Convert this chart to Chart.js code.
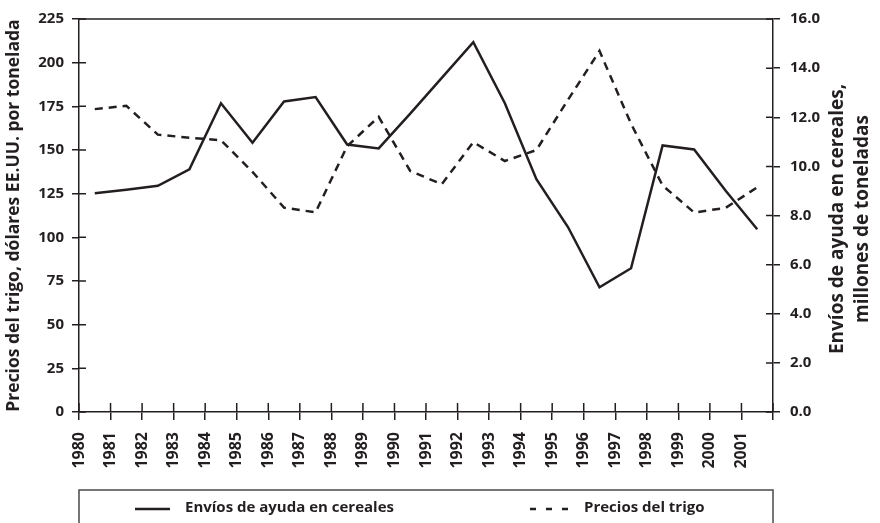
<!DOCTYPE html>
<html>
<head>
<meta charset="utf-8">
<script src="https://cdn.jsdelivr.net/npm/chart.js@4/dist/chart.umd.min.js"></script>
<style>
  html, body { margin: 0; padding: 0; background: #ffffff; }
  #wrap { width: 880px; height: 523px; position: relative; }
</style>
</head>
<body>
<div id="wrap"><canvas id="c" width="880" height="523"></canvas></div>
<script>
// ---- Data ----
const years = [1980,1981,1982,1983,1984,1985,1986,1987,1988,1989,1990,1991,1992,1993,1994,1995,1996,1997,1998,1999,2000,2001];
// Envíos de ayuda en cereales (millones de toneladas) - right axis
const aidShipments = [8.91,9.05,9.21,9.88,12.57,10.96,12.64,12.82,10.89,10.73,12.15,13.6,15.06,12.57,9.48,7.53,5.08,5.85,10.85,10.69,9.01,7.44];
// Precios del trigo (dólares EE.UU. por tonelada) - left axis
const wheatPrices = [173.4,175.3,158.8,157.0,155.6,137.5,117.0,114.3,152.2,169.0,138.0,130.4,154.5,143.7,150.0,178.7,206.7,165.0,129.7,114.2,116.9,128.6];

const seriesLabels = ['Envíos de ayuda en cereales', 'Precios del trigo'];
const leftTitle = 'Precios del trigo, dólares EE.UU. por tonelada';
const rightTitle = ['Envíos de ayuda en cereales,', 'millones de toneladas'];
const xTickLabels = years.map(String);

const INK = '#231f20';
const FONT = "'Open Sans', 'Noto Sans', sans-serif";

// mid-year plotting positions
const aidPoints = years.map((yr, i) => ({ x: yr + 0.5, y: aidShipments[i] }));
const pricePoints = years.map((yr, i) => ({ x: yr + 0.5, y: wheatPrices[i] }));

const decorPlugin = {
  id: 'decor',
  afterDraw(chart) {
    const ctx = chart.ctx;
    const area = chart.chartArea;
    const xs = chart.scales.x, ys = chart.scales.y, y1 = chart.scales.y1;
    ctx.save();
    ctx.strokeStyle = INK;
    ctx.lineWidth = 1.5;
    // top frame line
    ctx.beginPath();
    ctx.moveTo(area.left, area.top);
    ctx.lineTo(area.right, area.top);
    ctx.stroke();
    // inner tick marks (ticks cross axes)
    ctx.beginPath();
    xs.ticks.forEach(t => {
      const px = xs.getPixelForValue(t.value);
      ctx.moveTo(px, area.bottom);
      ctx.lineTo(px, area.bottom - 9);
    });
    ys.ticks.forEach(t => {
      const py = ys.getPixelForValue(t.value);
      ctx.moveTo(area.left, py);
      ctx.lineTo(area.left + 7, py);
    });
    y1.ticks.forEach(t => {
      const py = y1.getPixelForValue(t.value);
      ctx.moveTo(area.right, py);
      ctx.lineTo(area.right - 7, py);
    });
    ctx.stroke();

    // right axis title (reads bottom to top)
    ctx.fillStyle = INK;
    ctx.font = "bold 19px " + FONT;
    ctx.textAlign = 'center';
    ctx.textBaseline = 'middle';
    const cy = 219;
    [838, 863].forEach((x, i) => {
      ctx.save();
      ctx.translate(x, cy);
      ctx.rotate(-Math.PI / 2);
      ctx.fillText(rightTitle[i], 0, 0);
      ctx.restore();
    });

    // legend box
    const ds = chart.data.datasets;
    ctx.strokeStyle = '#4a4a4a';
    ctx.lineWidth = 1.5;
    ctx.strokeRect(area.left, 490, area.right - area.left, 60);
    const ly = 509;
    ctx.strokeStyle = INK;
    ctx.lineWidth = 2.5;
    ctx.setLineDash([]);
    ctx.beginPath(); ctx.moveTo(135, ly); ctx.lineTo(170, ly); ctx.stroke();
    ctx.setLineDash([6, 10]);
    ctx.beginPath(); ctx.moveTo(530, ly); ctx.lineTo(570, ly); ctx.stroke();
    ctx.setLineDash([]);
    ctx.font = "bold 15px " + FONT;
    ctx.textAlign = 'left';
    ctx.textBaseline = 'middle';
    ctx.fillText(ds[0].label, 185, ly - 1);
    ctx.fillText(ds[1].label, 584, ly - 1);
    ctx.restore();
  }
};

new Chart(document.getElementById('c'), {
  type: 'line',
  data: {
    datasets: [
      {
        label: seriesLabels[0],
        data: aidPoints,
        yAxisID: 'y1',
        borderColor: INK,
        borderWidth: 2.5,
        pointRadius: 0,
        tension: 0,
        fill: false
      },
      {
        label: seriesLabels[1],
        data: pricePoints,
        yAxisID: 'y',
        borderColor: INK,
        borderWidth: 2.5,
        borderDash: [8, 6],
        pointRadius: 0,
        tension: 0,
        fill: false
      }
    ]
  },
  options: {
    responsive: false,
    animation: false,
    layout: { padding: { top: 15, left: 0, right: 0, bottom: 0 } },
    plugins: {
      legend: { display: false },
      tooltip: { enabled: false },
      title: { display: false }
    },
    scales: {
      x: {
        type: 'linear',
        min: 1980,
        max: 2002,
        afterFit(s) { s.height = 111; },
        ticks: {
          stepSize: 1,
          autoSkip: false,
          minRotation: 90,
          maxRotation: 90,
          padding: 12,
          color: INK,
          font: { family: FONT, size: 16, weight: 'bold' },
          callback: (v) => { const i = years.indexOf(v); return i >= 0 ? xTickLabels[i] : ''; }
        },
        grid: { drawOnChartArea: false, drawTicks: true, tickLength: 8, color: INK, lineWidth: 1.5 },
        border: { display: true, color: INK, width: 1.5 }
      },
      y: {
        position: 'left',
        min: 0,
        max: 225,
        afterFit(s) { s.width = 79; },
        ticks: {
          stepSize: 25,
          padding: 8,
          color: INK,
          font: { family: FONT, size: 15, weight: 'bold' }
        },
        grid: { drawOnChartArea: false, drawTicks: true, tickLength: 7, color: INK, lineWidth: 1.5 },
        border: { display: true, color: INK, width: 1.5 },
        title: {
          display: true,
          text: leftTitle,
          color: INK,
          font: { family: FONT, size: 17.5, weight: 'bold' },
          padding: { top: 4, bottom: 0 }
        }
      },
      y1: {
        position: 'right',
        min: 0,
        max: 16,
        afterFit(s) { s.width = 107; },
        ticks: {
          stepSize: 2,
          padding: 10,
          color: INK,
          font: { family: FONT, size: 15, weight: 'bold' },
          callback: (v) => Number(v).toFixed(1)
        },
        grid: { drawOnChartArea: false, drawTicks: true, tickLength: 7, color: INK, lineWidth: 1.5 },
        border: { display: true, color: INK, width: 1.5 }
      }
    }
  },
  plugins: [decorPlugin]
});
</script>
</body>
</html>
